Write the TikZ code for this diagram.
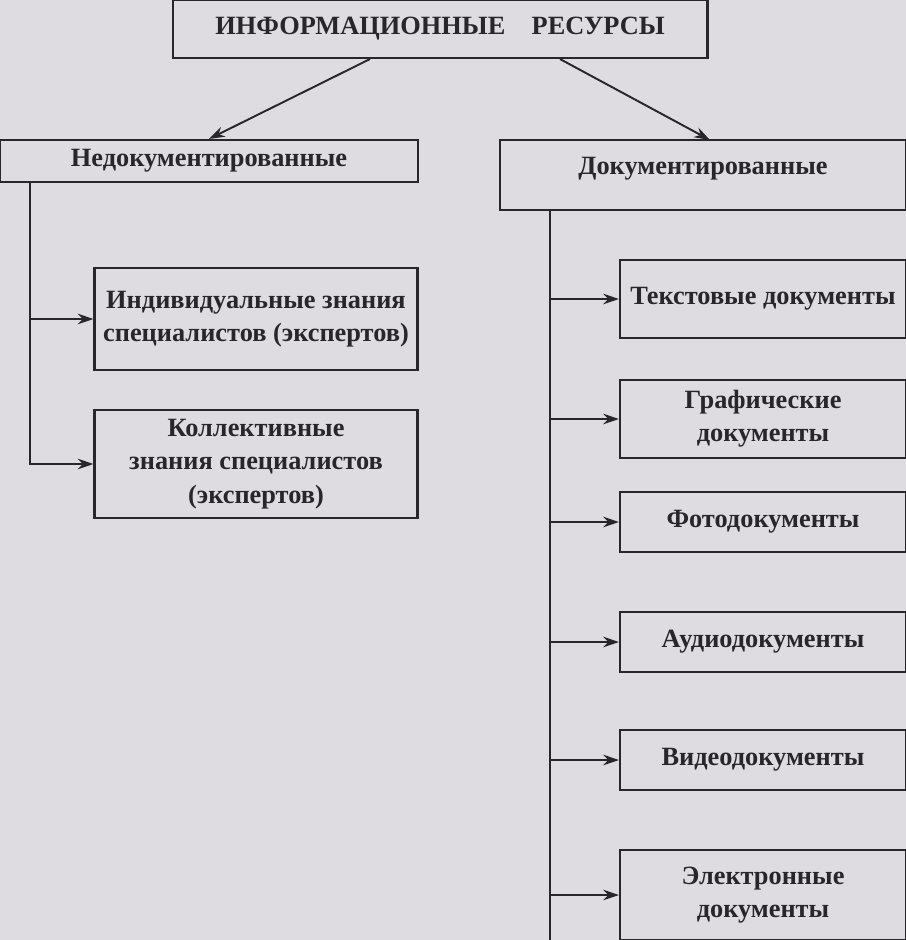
\documentclass[tikz,border=0pt]{standalone}
\usepackage{fontspec}
\setmainfont{Liberation Serif}
\usetikzlibrary{arrows.meta}
\definecolor{paper}{RGB}{222,220,224}
\definecolor{ink}{RGB}{40,38,42}
\begin{document}
\begin{tikzpicture}[x=0.02cm,y=-0.02cm,
  box/.style={draw=ink, line width=1.2pt, rectangle, inner sep=0, align=center,
    font=\fontsize{15}{19}\selectfont\bfseries, text=ink},
  conn/.style={draw=ink, line width=1.1pt},
  arr/.style={conn, -{Stealth[length=9pt,width=6pt]}}]
  \fill[paper] (0,0) rectangle (906,940);
  \useasboundingbox (0,0) rectangle (906,940);

  \node (res) [box, minimum width=10.7cm, minimum height=1.16cm] at (440,29) {ИНФОРМАЦИОННЫЕ\quad РЕСУРСЫ};
  \node (undoc) [box, minimum width=8.36cm, minimum height=0.84cm] at (209,161) {Недокументированные};
  \node (doc) [box, minimum width=8.12cm, minimum height=1.4cm, text depth=0.35cm] at (703,175) {Документированные};

  \node (indiv) [box, minimum width=6.46cm, minimum height=2.04cm] at (256,319) {Индивидуальные знания\\специалистов (экспертов)};
  \node (coll) [box, minimum width=6.46cm, minimum height=2.16cm] at (256,464) {Коллективные\\знания специалистов\\(экспертов)};

  \node (text) [box, minimum width=5.72cm, minimum height=1.56cm] at (763,299) {Текстовые документы};
  \node (graph) [box, minimum width=5.72cm, minimum height=1.56cm] at (763,419) {Графические\\документы};
  \node (photo) [box, minimum width=5.72cm, minimum height=1.2cm] at (763,522) {Фотодокументы};
  \node (audio) [box, minimum width=5.72cm, minimum height=1.2cm] at (763,642) {Аудиодокументы};
  \node (video) [box, minimum width=5.72cm, minimum height=1.2cm] at (763,760) {Видеодокументы};
  \node (elec) [box, minimum width=5.72cm, minimum height=1.8cm] at (763,895) {Электронные\\документы};

  \draw[arr] (res.south) ++(-70,0) -- (undoc.north);
  \draw[arr] (res.south) ++(120,0) -- (710,140);

  \coordinate (ltop) at (30,182);
  \draw[conn] (ltop) -- (30,465);
  \foreach \b in {indiv,coll}
    \draw[arr] (30,0 |- \b.west) -- (\b.west);

  \coordinate (rtop) at (550,210);
  \draw[conn] (rtop) -- (550,940);
  \foreach \b in {text,graph,photo,audio,video,elec}
    \draw[arr] (550,0 |- \b.west) -- (\b.west);
\end{tikzpicture}
\end{document}
